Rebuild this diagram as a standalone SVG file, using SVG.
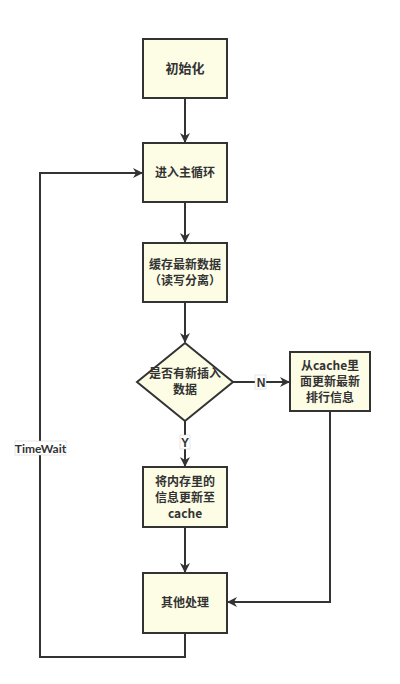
<svg xmlns="http://www.w3.org/2000/svg" width="400" height="684" viewBox="0 0 400 684">
<style>
.node{fill:#fdfde6;stroke:#333;stroke-width:2}
.t{font-family:"Noto Sans CJK SC","Noto Sans",sans-serif;font-size:12px;font-weight:bold;fill:#333;text-anchor:middle}
.e{fill:none;stroke:#333;stroke-width:2}
.lbl{fill:#fff;stroke:#ccc;stroke-width:0.5}
</style>
<defs>
<marker id="a" markerWidth="10" markerHeight="10" refX="9" refY="5" orient="auto" markerUnits="userSpaceOnUse">
<path d="M0,0 L10,5 L0,10 L3,5 Z" fill="#333"/>
</marker>
</defs>
<rect width="400" height="684" fill="#fff"/>
<g id="connectors">
<path class="e" d="M185,98 V142" marker-end="url(#a)"/>
<path class="e" d="M185,202 V242" marker-end="url(#a)"/>
<path class="e" d="M185,302 V342" marker-end="url(#a)"/>
<path class="e" d="M233,382 H289" marker-end="url(#a)"/>
<path class="e" d="M185,421 V466" marker-end="url(#a)"/>
<path class="e" d="M185,527 V572" marker-end="url(#a)"/>
<path class="e" d="M330,411 V602 H228" marker-end="url(#a)"/>
<path class="e" d="M185,633 V657 H40 V173 H142" marker-end="url(#a)"/>
<rect class="lbl" x="255" y="375" width="11" height="14"/>
<text class="t" x="261" y="386.5" style="font-family:'Liberation Sans',sans-serif">N</text>
<rect class="lbl" x="180" y="435" width="10" height="14"/>
<text class="t" x="185" y="446.5" style="font-family:'Liberation Sans',sans-serif">Y</text>
<rect class="lbl" x="15" y="441" width="51" height="14"/>
<text class="t" x="40.5" y="452.5" style="font-family:'Lato','Liberation Sans',sans-serif">TimeWait</text>
</g>
<g id="n1"><rect class="node" x="143" y="39" width="84" height="59"/><text class="t" x="185" y="73" style="font-size:13px">初始化</text></g>
<g id="n2"><rect class="node" x="143" y="143" width="84" height="59"/><text class="t" x="185" y="177">进入主循环</text></g>
<g id="n3"><rect class="node" x="143" y="243" width="84" height="59"/><text class="t" x="185" y="269">缓存最新数据</text><text class="t" x="185" y="285">（读写分离）</text></g>
<g id="n4"><path class="node" d="M185,343 L233,382 L185,421 L137,382 Z"/><text class="t" x="185" y="378">是否有新插入</text><text class="t" x="185" y="394">数据</text></g>
<g id="n5"><rect class="node" x="290" y="352" width="80" height="59"/><text class="t" x="330" y="370">从cache里</text><text class="t" x="330" y="386">面更新最新</text><text class="t" x="330" y="402">排行信息</text></g>
<g id="n6"><rect class="node" x="143" y="467" width="84" height="60"/><text class="t" x="185" y="486">将内存里的</text><text class="t" x="185" y="502">信息更新至</text><text class="t" x="185" y="518">cache</text></g>
<g id="n7"><rect class="node" x="143" y="573" width="84" height="60"/><text class="t" x="185" y="607">其他处理</text></g>
</svg>
